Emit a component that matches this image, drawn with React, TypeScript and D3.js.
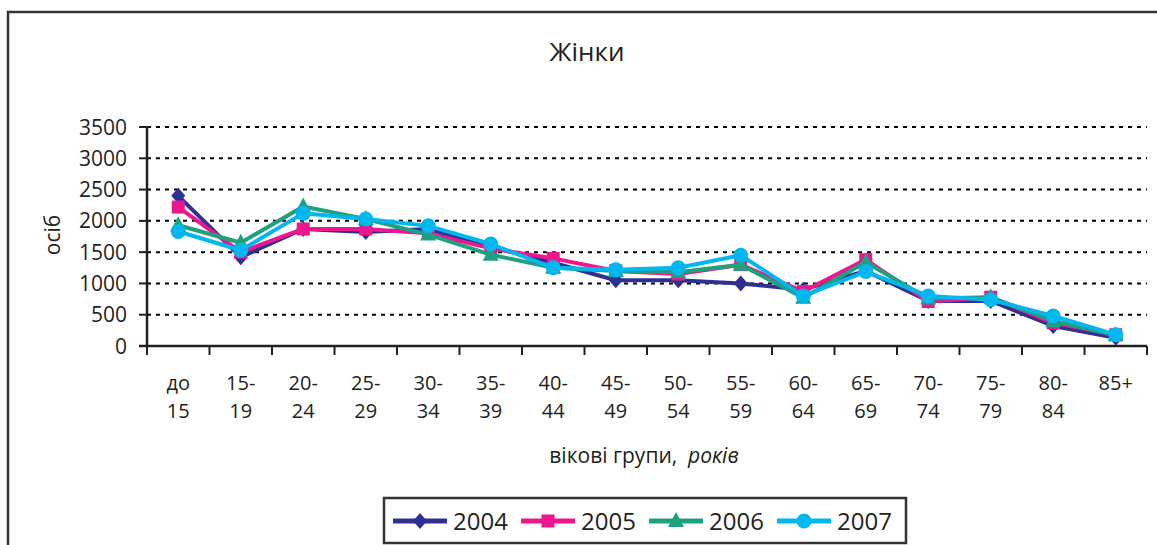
import React from 'react';
import * as d3 from 'd3';

// age groups, two text lines each
const ageGroups = [
  ['до', '15'], ['15-', '19'], ['20-', '24'], ['25-', '29'], ['30-', '34'], ['35-', '39'],
  ['40-', '44'], ['45-', '49'], ['50-', '54'], ['55-', '59'], ['60-', '64'], ['65-', '69'],
  ['70-', '74'], ['75-', '79'], ['80-', '84'], ['85+', ''],
];

const yTicks = [0, 500, 1000, 1500, 2000, 2500, 3000, 3500];

const values2004 = [2400, 1420, 1870, 1820, 1870, 1590, 1330, 1050, 1050, 1000, 900, 1200, 720, 720, 320, 130];
const values2005 = [2220, 1500, 1870, 1870, 1800, 1560, 1400, 1200, 1150, 1300, 870, 1380, 710, 780, 370, 180];
const values2006 = [1930, 1650, 2230, 2030, 1780, 1460, 1250, 1200, 1180, 1300, 770, 1340, 760, 780, 400, 170];
const values2007 = [1830, 1530, 2120, 2030, 1920, 1630, 1250, 1220, 1250, 1450, 800, 1190, 800, 740, 480, 180];

const years = ['2004', '2005', '2006', '2007'];
const colors = ['#2e3192', '#ec178c', '#1fa07f', '#00b8ef'];
const markers = ['diamond', 'square', 'triangle', 'circle'];

const FONT = '"Open Sans", "Noto Sans", sans-serif';
const INK = '#231f20';

const Marker = ({ kind, x, y, color }: { kind: string; x: number; y: number; color: string }) => {
  if (kind === 'diamond') {
    return <path d={`M${x},${y - 8}L${x + 7},${y}L${x},${y + 8}L${x - 7},${y}Z`} fill={color} />;
  }
  if (kind === 'square') {
    return <rect x={x - 6.5} y={y - 6.5} width={13} height={13} fill={color} />;
  }
  if (kind === 'triangle') {
    return <path d={`M${x},${y - 9}L${x + 8},${y + 6}L${x - 8},${y + 6}Z`} fill={color} />;
  }
  return <circle cx={x} cy={y} r={7.5} fill={color} />;
};

export default function App() {
  const width = 1157;
  const height = 545;
  const series = [values2004, values2005, values2006, values2007];
  const cats = ageGroups.map((g) => g.join(' '));

  const x = d3.scaleBand<string>().domain(cats).range([147, 1147]).padding(0);
  const y = d3.scaleLinear().domain([0, 3500]).range([346, 127]);
  const cx = (i: number) => (x(cats[i]) as number) + x.bandwidth() / 2;

  const line = d3
    .line<number>()
    .x((_, i) => cx(i))
    .y((d) => y(d));

  const boundaries = cats.map((c) => x(c) as number).concat([1147]);

  const legendItems = years.map((yr, i) => ({ yr, color: colors[i], kind: markers[i], x0: 393 + i * 128 }));

  return (
    <svg
      width={width}
      height={height}
      style={{ position: 'absolute', left: 0, top: 0, background: '#fff' }}
      fontFamily={FONT}
    >
      {/* outer frame */}
      <rect x={8} y={12} width={1200} height={600} fill="none" stroke="#333" strokeWidth={2.5} />

      <text x={587} y={61} textAnchor="middle" fontSize={26} fill={INK}>
        Жінки
      </text>

      {/* dotted gridlines */}
      {yTicks.filter((t) => t > 0).map((t) => (
        <line key={t} x1={147} x2={1147} y1={y(t)} y2={y(t)} stroke="#000" strokeWidth={2} strokeDasharray="4 5" />
      ))}

      {/* y axis */}
      <line x1={147} x2={147} y1={y(3500) - 1} y2={y(0)} stroke={INK} strokeWidth={2.5} />
      {yTicks.map((t) => (
        <g key={t}>
          <line x1={139} x2={149} y1={y(t)} y2={y(t)} stroke={INK} strokeWidth={2} />
          <text x={127} y={y(t)} dy="0.36em" textAnchor="end" fontSize={21} fill={INK}>
            {t}
          </text>
        </g>
      ))}
      <text
        transform={`translate(53,235) rotate(-90)`}
        textAnchor="middle"
        dy="0.35em"
        fontSize={21}
        fill={INK}
      >
        осіб
      </text>

      {/* x axis */}
      <line x1={139} x2={1147} y1={y(0)} y2={y(0)} stroke={INK} strokeWidth={2.5} />
      {boundaries.map((b, i) => (
        <line key={i} x1={b} x2={b} y1={y(0)} y2={y(0) + 9} stroke={INK} strokeWidth={2} />
      ))}
      {ageGroups.map((g, i) => (
        <text key={i} x={cx(i)} textAnchor="middle" fontSize={20} fill={INK}>
          <tspan x={cx(i)} y={390}>{g[0]}</tspan>
          {g[1] && <tspan x={cx(i)} y={418}>{g[1]}</tspan>}
        </text>
      ))}
      <text x={644} y={463} textAnchor="middle" fontSize={21} fill={INK} style={{ whiteSpace: 'pre' }}>
        {'вікові групи,  '}
        <tspan fontStyle="italic">років</tspan>
      </text>

      {/* series */}
      {series.map((vals, s) => (
        <g key={years[s]}>
          <path d={line(vals) as string} fill="none" stroke={colors[s]} strokeWidth={4} strokeLinejoin="round" />
          {vals.map((v, i) => (
            <Marker key={i} kind={markers[s]} x={cx(i)} y={y(v)} color={colors[s]} />
          ))}
        </g>
      ))}

      {/* legend */}
      <rect x={384} y={498} width={522} height={45} fill="#fff" stroke="#333" strokeWidth={2.5} />
      {legendItems.map((it) => (
        <g key={it.yr}>
          <line x1={it.x0} x2={it.x0 + 54} y1={521} y2={521} stroke={it.color} strokeWidth={5} />
          <Marker kind={it.kind} x={it.x0 + 27} y={521} color={it.color} />
          <text x={it.x0 + 60} y={521} dy="0.36em" fontSize={24} fill={INK}>
            {it.yr}
          </text>
        </g>
      ))}
    </svg>
  );
}
